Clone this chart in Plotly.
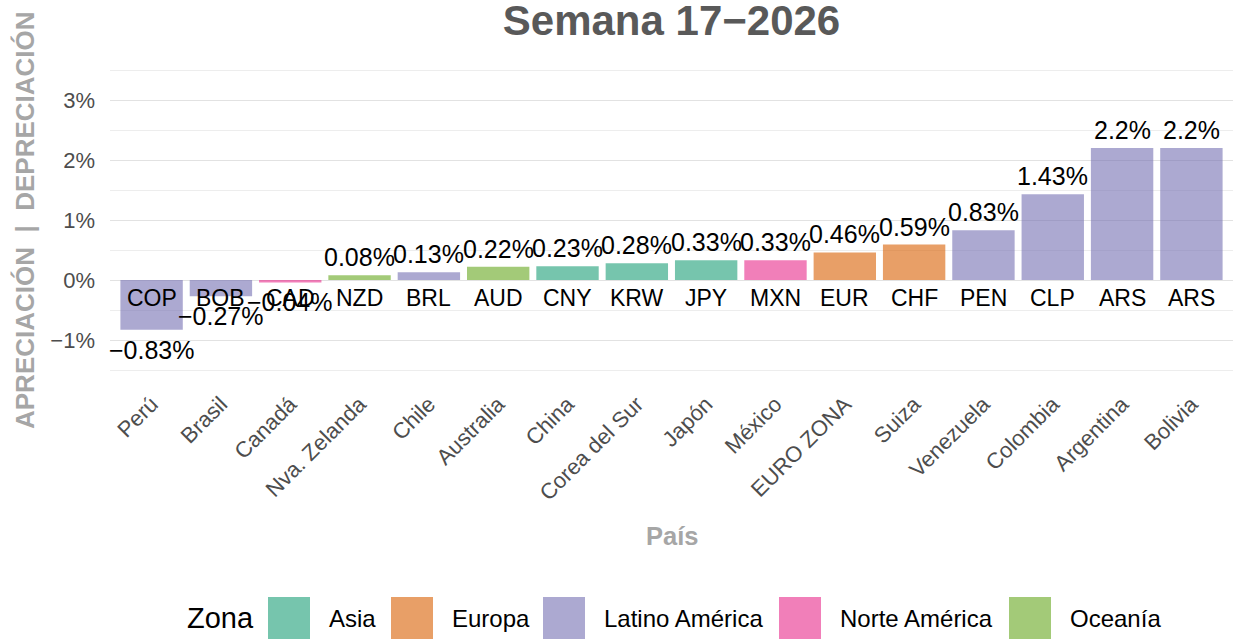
import plotly.graph_objects as go

# ---------------- data ----------------
paises = ["Perú", "Brasil", "Canadá", "Nva. Zelanda", "Chile", "Australia", "China",
          "Corea del Sur", "Japón", "México", "EURO ZONA", "Suiza", "Venezuela",
          "Colombia", "Argentina", "Bolivia"]
monedas = ["COP", "BOB", "CAD", "NZD", "BRL", "AUD", "CNY", "KRW", "JPY", "MXN",
           "EUR", "CHF", "PEN", "CLP", "ARS", "ARS"]
variacion = [-0.83, -0.27, -0.04, 0.08, 0.13, 0.22, 0.23, 0.28, 0.33, 0.33,
             0.46, 0.59, 0.83, 1.43, 2.2, 2.2]
zonas = ["Latino América", "Latino América", "Norte América", "Oceanía",
         "Latino América", "Oceanía", "Asia", "Asia", "Asia", "Norte América",
         "Europa", "Europa", "Latino América", "Latino América", "Latino América",
         "Latino América"]
zona_orden = ["Asia", "Europa", "Latino América", "Norte América", "Oceanía"]
y_ticks = [-1, 0, 1, 2, 3]
y_tick_labels = [("\u2212" if t < 0 else "") + f"{abs(t)}%" for t in y_ticks]
titulo = "Semana 17\u22122026"

# ---------------- styles ----------------
zona_color = {
    "Asia": "rgba(27,158,119,0.6)",
    "Europa": "rgba(217,95,2,0.6)",
    "Latino América": "rgba(117,112,179,0.6)",
    "Norte América": "rgba(231,41,138,0.6)",
    "Oceanía": "rgba(102,166,30,0.6)",
}
FONT = "Liberation Sans, Arial, Helvetica, sans-serif"
W, H = 1238, 639
ML, MR, MT, MB = 110, 5, 61, 260


def px_x(px):
    return (px - ML) / (W - ML - MR)


def px_y(py):
    return (H - MB - py) / (H - MT - MB)


fig = go.Figure()
fig.add_trace(go.Bar(
    x=paises, y=variacion,
    marker=dict(color=[zona_color[z] for z in zonas], line=dict(width=0)),
    showlegend=False, hoverinfo="x+y",
))

ann = []
# value labels
for p, v in zip(paises, variacion):
    txt = ("\u2212" if v < 0 else "") + f"{abs(v):g}%"
    ann.append(dict(x=p, y=v, xref="x", yref="y", text=txt, showarrow=False,
                    yanchor="bottom" if v >= 0 else "top",
                    yshift=2 if v >= 0 else -4,
                    font=dict(family=FONT, size=25, color="black")))
# currency labels
for p, m in zip(paises, monedas):
    ann.append(dict(x=p, y=-0.3, xref="x", yref="y", text=m, showarrow=False,
                    yanchor="middle", font=dict(family=FONT, size=23, color="black")))

# axis titles
ann.append(dict(x=px_x(25), y=0.5, xref="paper", yref="paper",
                text="APRECIACIÓN\u00a0\u00a0|\u00a0\u00a0DEPRECIACIÓN", textangle=-90,
                showarrow=False, xanchor="center", yanchor="middle",
                font=dict(family=FONT, size=26, color="#a6a6a6", weight="bold")))
ann.append(dict(x=0.5, y=px_y(536), xref="paper", yref="paper", text="País",
                showarrow=False, xanchor="center", yanchor="middle",
                font=dict(family=FONT, size=25.5, color="#a6a6a6", weight="bold")))

# manual legend (large keys)
leg_title_x = 185
key_x = [268, 391, 543, 779, 1009]
key_w = 42
key_top, key_bot = 597, 639
leg_cy = 618
ann.append(dict(x=px_x(leg_title_x), y=px_y(leg_cy), xref="paper", yref="paper",
                text="Zona", showarrow=False, xanchor="left", yanchor="middle",
                font=dict(family=FONT, size=29, color="black")))
shapes = []
for z, kx in zip(zona_orden, key_x):
    shapes.append(dict(type="rect", xref="paper", yref="paper",
                       x0=px_x(kx), x1=px_x(kx + key_w),
                       y0=px_y(key_bot), y1=px_y(key_top),
                       fillcolor=zona_color[z], line=dict(width=0), layer="above"))
    ann.append(dict(x=px_x(kx + key_w + 17), y=px_y(leg_cy), xref="paper", yref="paper",
                    text=z, showarrow=False, xanchor="left", yanchor="middle",
                    font=dict(family=FONT, size=24, color="black")))

fig.update_layout(
    width=W, height=H,
    margin=dict(l=ML, r=MR, t=MT, b=MB, pad=0),
    paper_bgcolor="white", plot_bgcolor="white",
    bargap=0.1,
    showlegend=False,
    title=dict(text=titulo, x=0.5, xref="paper", xanchor="center",
               y=1 - 20 / H, yref="container", yanchor="middle",
               font=dict(family=FONT, size=42, color="#595959", weight="bold")),
    xaxis=dict(type="category", range=[-0.6, len(paises) - 0.4],
               tickangle=-45, showgrid=False, zeroline=False, showline=False,
               ticks="", ticklabelstandoff=7,
               tickfont=dict(family=FONT, size=22, color="#4d4d4d")),
    yaxis=dict(range=[-1.65, 3.65], tickmode="array", tickvals=y_ticks,
               ticktext=y_tick_labels,
               showgrid=True, gridcolor="#e2e2e2", gridwidth=1.4,
               zeroline=False, showline=False, ticks="", ticklabelstandoff=14,
               tickfont=dict(family=FONT, size=22, color="#4d4d4d"),
               minor=dict(dtick=0.5, showgrid=True, gridcolor="#ededed", gridwidth=1)),
    annotations=ann,
    shapes=shapes,
    font=dict(family=FONT),
)

fig.write_html("out.html", config={"displayModeBar": False},
               post_script="document.body.style.margin='0';document.body.style.overflow='hidden';")
